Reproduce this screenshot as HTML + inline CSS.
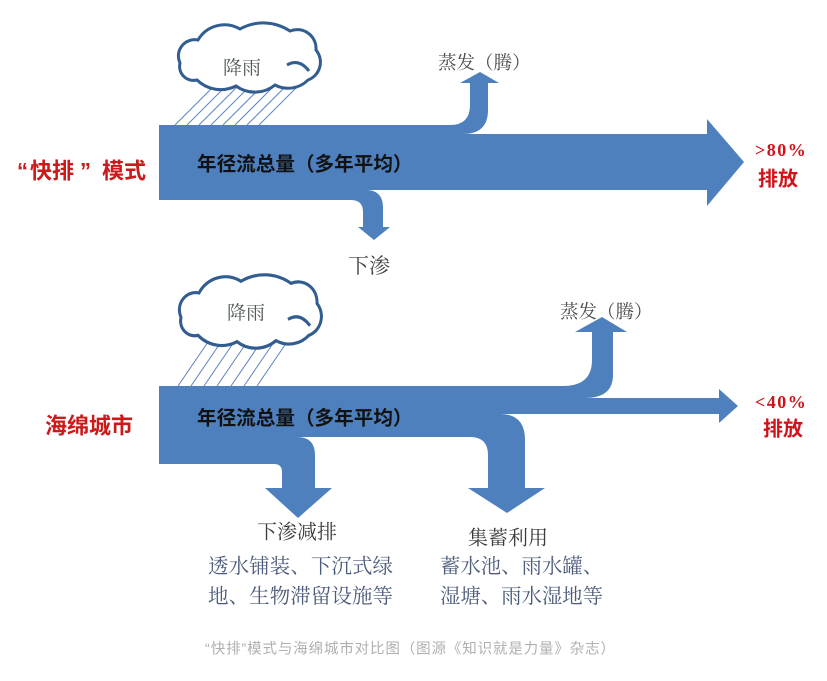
<!DOCTYPE html>
<html><head><meta charset="utf-8"><style>
html,body{margin:0;padding:0;background:#fff;}
svg{display:block;}
.s{font-family:"Liberation Serif","Noto Serif CJK SC",serif;}
.h{font-family:"Liberation Sans","Noto Sans CJK SC",sans-serif;}
</style></head><body>
<svg width="827" height="681" viewBox="0 0 827 681" xmlns="http://www.w3.org/2000/svg">
<rect width="827" height="681" fill="#fff"/>

<!-- ===== Top diagram ===== -->
<g stroke="#5b84c2" stroke-width="1">
  <line x1="175" y1="125" x2="213" y2="87"/>
  <line x1="187" y1="125" x2="225" y2="87"/>
  <line x1="199" y1="125" x2="237" y2="87"/>
  <line x1="211" y1="125" x2="249" y2="87"/>
  <line x1="223" y1="125" x2="261" y2="87"/>
  <line x1="235" y1="125" x2="273" y2="87"/>
  <line x1="247" y1="125" x2="285" y2="87"/>
  <line x1="259" y1="125" x2="297" y2="87"/>
</g>
<g id="cloud">
<path d="M197,80 A14,14 0 0 1 180,63 A16.3,16.3 0 0 1 198,40 A30.7,30.7 0 0 1 240,29 A48,48 0 0 1 290,31 A18.9,18.9 0 0 1 316,50 A19,19 0 0 1 308,80 A28,28 0 0 1 275,85 A32,32 0 0 1 236,86 A34,34 0 0 1 197,80 Z" fill="#fff" stroke="#325d90" stroke-width="3"/>
<path d="M287,65 Q299,58 309,71" fill="none" stroke="#325d90" stroke-width="3"/>
</g>
<text class="s" x="223" y="74" font-size="19" fill="#505a58">降雨</text>

<path fill="#4e80bd" d="M159,125 L450,125 Q470,125 470,105 L470,83 L460,83 L480,72 L499,83 L488,83 L488,110 Q488,134 463,134 L707,134 L707,119 L744,162 L707,206 L707,190 L366,190 Q383,190 383,208 L383,227 L390,227 L374,240 L358,227 L363,227 L363,212 Q363,200 351,200 L159,200 Z"/>

<text class="h" x="197" y="170.5" font-size="19.6" font-weight="bold" fill="#111">年径流总量（多年平均）</text>
<text class="s" x="438" y="69" font-size="18.5" fill="#4a4a4a">蒸发（腾）</text>
<text class="s" x="348" y="273" font-size="21" fill="#444">下渗</text>
<text class="s" x="755" y="156" font-size="18" font-weight="bold" fill="#d0121b" letter-spacing="1.5">&gt;80%</text>
<text class="h" x="758" y="185.6" font-size="20" font-weight="bold" fill="#d0121b">排放</text>

<text class="h" x="17" y="178.4" font-size="22" font-weight="bold" fill="#cc1a1a">“</text>
<text class="h" x="30" y="178.4" font-size="22" font-weight="bold" fill="#cc1a1a">快排</text>
<text class="h" x="80" y="178.4" font-size="22" font-weight="bold" fill="#cc1a1a">”</text>
<text class="h" x="102" y="178.4" font-size="22" font-weight="bold" fill="#cc1a1a">模式</text>

<!-- ===== Bottom diagram ===== -->
<g stroke="#5b84c2" stroke-width="1">
  <line x1="178" y1="386" x2="208" y2="342"/>
  <line x1="191" y1="386" x2="221" y2="342"/>
  <line x1="204" y1="386" x2="234" y2="342"/>
  <line x1="217" y1="386" x2="247" y2="342"/>
  <line x1="231" y1="386" x2="261" y2="342"/>
  <line x1="244" y1="386" x2="274" y2="342"/>
  <line x1="257" y1="386" x2="287" y2="342"/>
</g>
<g transform="translate(1,250.5) scale(1,1.06)">
<path d="M197,80 A14,14 0 0 1 180,63 A16.3,16.3 0 0 1 198,40 A30.7,30.7 0 0 1 240,29 A48,48 0 0 1 290,31 A18.9,18.9 0 0 1 316,50 A19,19 0 0 1 308,80 A28,28 0 0 1 275,85 A32,32 0 0 1 236,86 A34,34 0 0 1 197,80 Z" fill="#fff" stroke="#325d90" stroke-width="3"/>
<path d="M287,65 Q299,58 309,71" fill="none" stroke="#325d90" stroke-width="3"/>
</g>
<text class="s" x="227" y="319" font-size="19" fill="#505a58">降雨</text>

<path fill="#4e80bd" d="M159,386 L563,386 Q592,386 592,360 L592,332 L575,332 L602,317 L627,332 L613,332 L613,375 Q613,398 585,398 L719,398 L719,389 L738,406 L719,423 L719,414 L500,414 Q525,414 525,440 L525,488 L545,488 L507,513 L468,488 L488,488 L488,455 Q488,437 470,437 L297,437 Q315,437 315,455 L315,488 L332,488 L298,518 L265,488 L282,488 L282,472 Q282,464 274,464 L159,464 Z"/>

<text class="h" x="197" y="424.5" font-size="19.6" font-weight="bold" fill="#111">年径流总量（多年平均）</text>
<text class="s" x="560" y="318" font-size="18.5" fill="#4a4a4a">蒸发（腾）</text>
<text class="s" x="755" y="408" font-size="18" font-weight="bold" fill="#d0121b" letter-spacing="1.5">&lt;40%</text>
<text class="h" x="763" y="435.6" font-size="20" font-weight="bold" fill="#d0121b">排放</text>
<text class="h" x="45" y="433.4" font-size="22" font-weight="bold" fill="#cc1a1a">海绵城市</text>

<text class="s" x="257" y="538.6" font-size="20" fill="#3c3c3c">下渗减排</text>
<text class="s" x="208" y="572.8" font-size="20.5" fill="#4d5c7c" textLength="185" lengthAdjust="spacing">透水铺装、下沉式绿</text>
<text class="s" x="208" y="602.8" font-size="20.5" fill="#4d5c7c" textLength="185" lengthAdjust="spacing">地、生物滞留设施等</text>
<text class="s" x="468" y="544.6" font-size="20" fill="#3c3c3c">集蓄利用</text>
<text class="s" x="440" y="572.8" font-size="20.4" fill="#4d5c7c">蓄水池、雨水罐、</text>
<text class="s" x="440" y="602.8" font-size="20.4" fill="#4d5c7c" textLength="163" lengthAdjust="spacing">湿塘、雨水湿地等</text>

<text class="h" x="205" y="653.3" font-size="14.5" fill="#b0b0b0" textLength="410" lengthAdjust="spacing">“快排”模式与海绵城市对比图（图源《知识就是力量》杂志）</text>
</svg>
</body></html>
